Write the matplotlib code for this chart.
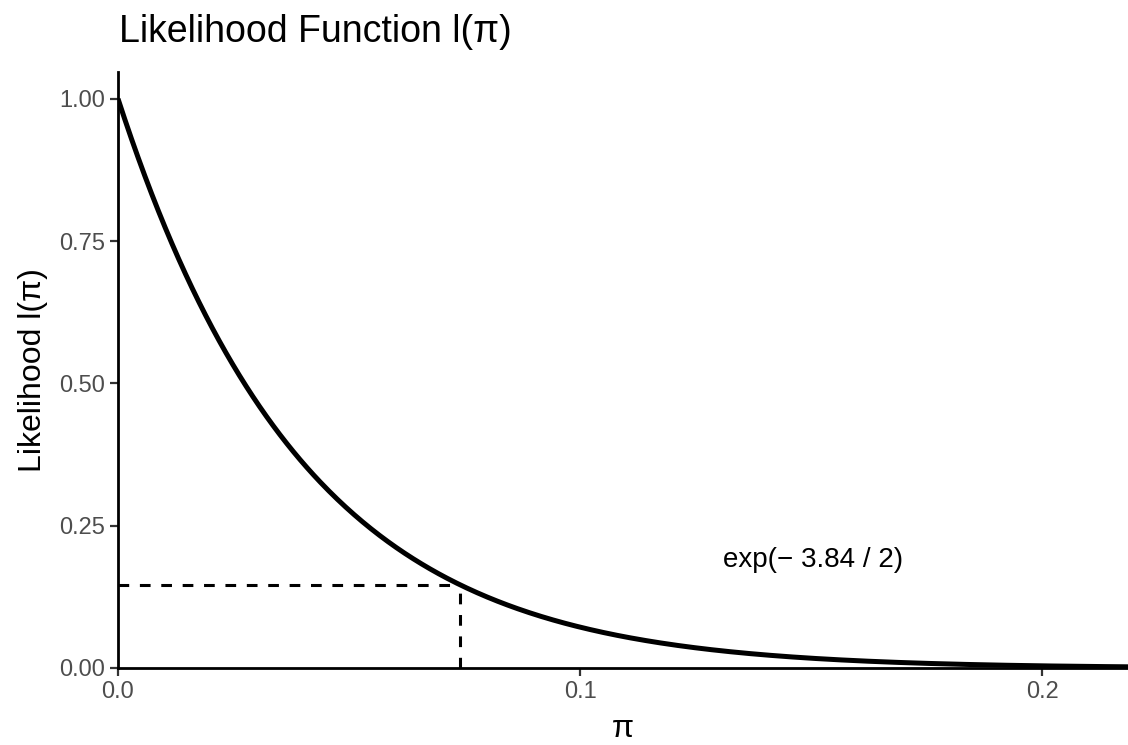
import numpy as np
import matplotlib
matplotlib.use("Agg")
import matplotlib.pyplot as plt

# Data: binomial likelihood with 0 events in n trials, scaled to max 1
n_trials = 25
events = 0
pi_max = 0.2186
chi2_crit = 3.84
x_ticks = [0.0, 0.1, 0.2]
x_tick_labels = ["0.0", "0.1", "0.2"]
y_ticks = [0.00, 0.25, 0.50, 0.75, 1.00]
y_tick_labels = ["0.00", "0.25", "0.50", "0.75", "1.00"]
annot_pos = (0.1505, 0.19)
annot_text = "exp(\u2212 3.84 / 2)"

plt.rcParams['font.family'] = ['Liberation Sans', 'DejaVu Sans']

pi = np.linspace(0, pi_max, 600)
lik = (1 - pi) ** (n_trials - events)
cut = np.exp(-chi2_crit / 2)
pi_cut = 1 - cut ** (1 / n_trials)

fig = plt.figure(figsize=(11.28, 7.45), dpi=100)
ax = fig.add_axes([118/1128, 1 - 668/745, 1 - 118/1128, (668 - 72)/745])

ax.plot(pi, lik, color='black', lw=3.6, solid_capstyle='butt', zorder=3)
ax.plot([0, pi_cut], [cut, cut], color='black', lw=2.2, ls=(0, (3.5, 3.5)), zorder=2)
ax.plot([pi_cut, pi_cut], [0, cut], color='black', lw=2.2, ls=(0, (3.5, 3.5)), zorder=2)
ax.text(annot_pos[0], annot_pos[1], annot_text, fontsize=20, ha='center', va='center')

ax.set_xlim(0, pi_max)
ax.set_ylim(0, 1.047)
ax.set_xticks(x_ticks)
ax.set_xticklabels(x_tick_labels)
ax.set_yticks(y_ticks)
ax.set_yticklabels(y_tick_labels)
ax.tick_params(axis='both', labelcolor='#4D4D4D', color='#333333', labelsize=17,
               length=6, width=1.6, pad=3)
for s in ['top', 'right']:
    ax.spines[s].set_visible(False)
for s in ['left', 'bottom']:
    ax.spines[s].set_linewidth(2.0)
    ax.spines[s].set_color('black')
ax.set_xlabel("\u03c0", fontsize=23, labelpad=8)
ax.set_ylabel("Likelihood l(\u03c0)", fontsize=23, labelpad=8)
fig.text(119/1128, 1 - 32/745, "Likelihood Function l(\u03c0)", fontsize=27, ha='left', va='center')

fig.savefig("out.png", dpi=100)
